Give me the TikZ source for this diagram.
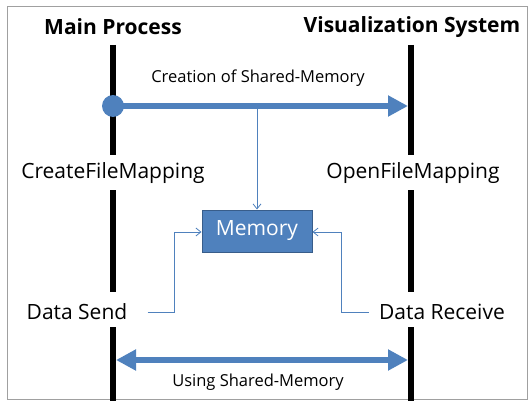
\documentclass[tikz,border=0pt]{standalone}
\usepackage{fontspec}
\setmainfont{Open Sans}
\usetikzlibrary{arrows.meta}
\definecolor{memblue}{HTML}{4F81BD}
\definecolor{memedge}{HTML}{385D8A}
\definecolor{framegray}{HTML}{A0A0A0}
\tikzset{
  lifeline/.style={line width=6pt},
  title/.style={font=\fontsize{21}{24}\selectfont\bfseries, inner sep=0pt},
  callname/.style={font=\fontsize{21}{24}\selectfont, inner sep=0pt},
  msglabel/.style={font=\fontsize{16.5}{19}\selectfont, inner sep=0pt},
  bigarrow/.style={memblue, line width=6pt},
  thinarrow/.style={memblue, line width=0.8pt, -{Straight Barb[length=5pt,width=8pt]}},
  membox/.style={fill=memblue, draw=memedge, line width=1pt, text=white,
    minimum width=110pt, minimum height=42pt, inner sep=0pt,
    font=\fontsize{21}{24}\selectfont}
}
\begin{document}
\begin{tikzpicture}[x=1pt,y=-1pt]
  \useasboundingbox (0,0) rectangle (529,401);
  \draw[framegray, line width=1pt] (7,7) rectangle (527,399);

  % participants
  \node[title] (mp) at (113,27) {Main Process};
  \node[title] (vs) at (412,27) {Visualization System};

  % labels along the lifelines
  \node[callname] (cfm) at (113,173) {CreateFileMapping};
  \node[callname] (ofm) at (413,173) {OpenFileMapping};
  \node[callname] (ds) at (77,312) {Data Send};
  \node[callname] (dr) at (442,312) {Data Receive};

  \coordinate (ltop) at (113,45);
  \coordinate (lbot) at (113,401);
  \coordinate (rtop) at (411,45);
  \coordinate (rbot) at (411,401);

  % lifelines, broken where the labels sit
  \draw[lifeline] (ltop) -- (ltop |- 0,155);
  \draw[lifeline] (ltop |- 0,190) -- (ltop |- 0,292);
  \draw[lifeline] (ltop |- 0,327) -- (lbot);
  \draw[lifeline] (rtop) -- (rtop |- 0,155);
  \draw[lifeline] (rtop |- 0,190) -- (rtop |- 0,292);
  \draw[lifeline] (rtop |- 0,327) -- (rbot);

  % shared memory block
  \node[membox] (mem) at (257,231) {Memory};

  % creation message
  \coordinate (cstart) at (113,106);
  \coordinate (cend) at (408,106);
  \draw[bigarrow, -{Triangle[length=20pt,width=20pt]}] (cstart) -- (cend);
  \fill[memblue] (cstart) circle (11pt);
  \node[msglabel] (clab) at (258,78) {Creation of Shared-Memory};
  \coordinate (cdrop) at (257,106);
  \draw[thinarrow] (cdrop) -- (mem.north);

  % data paths into the memory block
  \draw[thinarrow] ([xshift=20pt]ds.east) -| (174,232) -- (mem.west |- 0,232);
  \draw[thinarrow] ([xshift=-10pt]dr.west) -| (341,232) -- (mem.east |- 0,232);

  % usage message
  \coordinate (ustart) at (116,360);
  \coordinate (uend) at (408,360);
  \draw[bigarrow, {Triangle[length=20pt,width=20pt]}-{Triangle[length=20pt,width=20pt]}] (ustart) -- (uend);
  \node[msglabel] (ulab) at (258,382) {Using Shared-Memory};
\end{tikzpicture}
\end{document}
